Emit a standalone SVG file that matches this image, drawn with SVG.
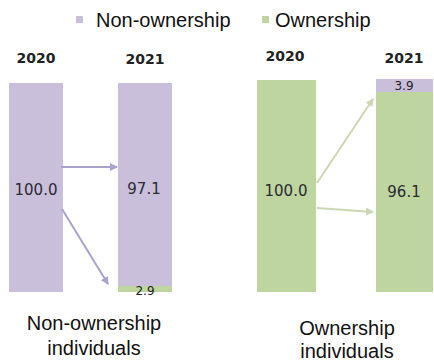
<svg xmlns="http://www.w3.org/2000/svg" width="434" height="361" viewBox="0 0 434 361">
<style>
.p{fill:#c9bfdb}
.g{fill:#bed59f}
.yr{font-family:"DejaVu Sans",sans-serif;font-weight:bold;font-size:14px;fill:#222;text-anchor:middle}
.v{font-family:"DejaVu Sans",sans-serif;font-size:15px;fill:#2a2a33;text-anchor:middle}
.vs{font-family:"DejaVu Sans",sans-serif;font-size:12px;fill:#222;text-anchor:middle}
.lg{font-family:"Liberation Sans",Arial,sans-serif;font-size:20px;fill:#111}
.cap{font-family:"Liberation Sans",Arial,sans-serif;font-size:20px;fill:#111;text-anchor:middle}
.ap{stroke:#a9a3cc;stroke-width:2;fill:none}
.ag{stroke:#ccd6b4;stroke-width:2;fill:none}
</style>
<defs>
<marker id="mp" markerWidth="8" markerHeight="8" refX="7" refY="4" orient="auto" markerUnits="userSpaceOnUse" viewBox="0 0 8 8"><path d="M0,0 L8,4 L0,8 z" fill="#a9a3cc"/></marker>
<marker id="mg" markerWidth="8" markerHeight="8" refX="7" refY="4" orient="auto" markerUnits="userSpaceOnUse" viewBox="0 0 8 8"><path d="M0,0 L8,4 L0,8 z" fill="#ccd6b4"/></marker>
</defs>
<g id="legend">
<rect x="76" y="16" width="7" height="7" class="p"/>
<text x="96" y="27" class="lg">Non-ownership</text>
<rect x="262" y="16" width="7" height="7" class="g"/>
<text x="275" y="27" class="lg">Ownership</text>
</g>
<g id="years">
<text x="36" y="63" class="yr">2020</text>
<text x="145" y="64" class="yr">2021</text>
<text x="285" y="61" class="yr">2020</text>
<text x="404" y="63" class="yr">2021</text>
</g>
<g id="bar-non-2020">
<rect x="9" y="83" width="54" height="209" class="p"/>
<text x="36" y="195" class="v">100.0</text>
</g>
<g id="bar-non-2021">
<rect x="118" y="83" width="54" height="203" class="p"/>
<rect x="118" y="286" width="54" height="6" class="g"/>
<text x="144" y="194" class="v">97.1</text>
<text x="145" y="295" class="vs">2.9</text>
</g>
<g id="bar-own-2020">
<rect x="257" y="80" width="59" height="212" class="g"/>
<text x="286" y="196" class="v">100.0</text>
</g>
<g id="bar-own-2021">
<rect x="376" y="79" width="57" height="13" class="p"/>
<rect x="376" y="92" width="57" height="200" class="g"/>
<text x="404" y="197" class="v">96.1</text>
<text x="404" y="90" class="vs">3.9</text>
</g>
<g id="connectors">
<line x1="61" y1="167" x2="117" y2="167" class="ap" marker-end="url(#mp)"/>
<line x1="62" y1="209" x2="108" y2="284" class="ap" marker-end="url(#mp)"/>
<line x1="317" y1="183" x2="373" y2="99" class="ag" marker-end="url(#mg)"/>
<line x1="317" y1="208" x2="373" y2="212" class="ag" marker-end="url(#mg)"/>
</g>
<g id="captions">
<text x="94" y="330" class="cap">Non-ownership</text>
<text x="94" y="355" class="cap">individuals</text>
<text x="347" y="335" class="cap">Ownership</text>
<text x="347" y="358" class="cap">individuals</text>
</g>
</svg>
